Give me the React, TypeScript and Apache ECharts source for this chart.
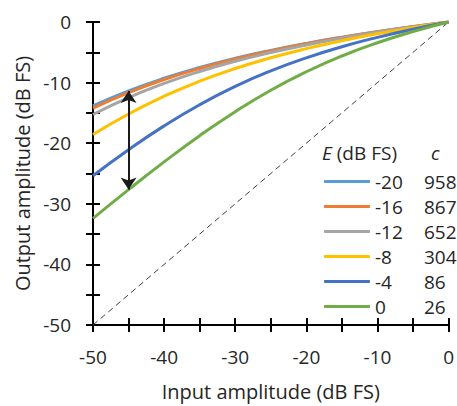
import React, { useEffect, useRef } from "react";
import * as echarts from "echarts";

const xInput = [-50, -45, -40, -35, -30, -25, -20, -15, -10, -5, 0];
const seriesNames = ["-20", "-16", "-12", "-8", "-4", "0"];
const cValues = ["958", "867", "652", "304", "86", "26"];
const colors = ["#5B9BD5", "#ED7D31", "#A5A5A5", "#FFC000", "#4472C4", "#70AD47"];

const yE20 = [-13.85, -11.37, -9.28, -7.51, -5.99, -4.68, -3.53, -2.51, -1.59, -0.76, 0];
const yE16 = [-14.2, -11.64, -9.49, -7.67, -6.11, -4.77, -3.59, -2.55, -1.62, -0.77, 0];
const yE12 = [-15.26, -12.48, -10.14, -8.16, -6.48, -5.04, -3.78, -2.68, -1.69, -0.81, 0];
const yE8 = [-18.58, -15.18, -12.25, -9.77, -7.68, -5.91, -4.4, -3.09, -1.94, -0.92, 0];
const yE4 = [-25.37, -21.08, -17.14, -13.65, -10.63, -8.07, -5.91, -4.08, -2.53, -1.18, 0];
const yE0 = [-32.41, -27.66, -23.08, -18.76, -14.8, -11.26, -8.21, -5.61, -3.43, -1.58, 0];
const seriesValues = [yE20, yE16, yE12, yE8, yE4, yE0];

const diagonal = [[-50, -50], [0, 0]];
const arrowX = -45;
const arrowTop = -11.37;
const arrowBottom = -27.66;

const FONT = "Open Sans";
const FS = 19;
const NFS = 20;

export default function App() {
  const ref = useRef<HTMLDivElement>(null);
  useEffect(() => {
    if (!ref.current) return;
    const chart = echarts.init(ref.current, null, { renderer: "svg" });
    const cMap: Record<string, string> = {};
    seriesNames.forEach((n, i) => (cMap[n] = cValues[i]));
    const fmt = (v: number) => (v % 10 === 0 ? String(v) : "");
    const textColor = "#262626";
    const axisBase = (inside: boolean, showLine: boolean, showLabel: boolean) => ({
      type: "value",
      min: -50,
      max: 0,
      interval: 5,
      splitLine: { show: false },
      axisLine: { show: showLine, onZero: false, lineStyle: { color: "#000", width: 2 } },
      axisTick: { show: true, inside, length: 7, lineStyle: { color: "#000", width: 2 } },
      axisLabel: {
        show: showLabel,
        formatter: fmt,
        margin: 22,
        color: textColor,
        fontFamily: FONT,
        fontSize: FS,
      },
    });
    chart.setOption({
      animation: false,
      backgroundColor: "#fff",
      grid: { left: 93, right: 8, top: 22, bottom: 77 },
      xAxis: [
        {
          ...axisBase(false, true, true),
          position: "bottom",
          name: "Input amplitude (dB FS)",
          nameLocation: "middle",
          nameGap: 56,
          nameTextStyle: { color: textColor, fontFamily: FONT, fontSize: NFS },
        },
        { ...axisBase(true, false, false), position: "bottom" },
      ],
      yAxis: [
        {
          ...axisBase(false, true, true),
          position: "left",
          name: "Output amplitude (dB FS)",
          nameLocation: "middle",
          nameGap: 61,
          nameTextStyle: { color: textColor, fontFamily: FONT, fontSize: NFS },
        },
        { ...axisBase(true, false, false), position: "left" },
      ],
      legend: {
        data: seriesNames,
        orient: "vertical",
        left: 319,
        top: 167,
        itemWidth: 46,
        itemHeight: 3,
        itemGap: 6,
        icon: "roundRect",
        formatter: (name: string) => `{n|${name}}{c|${cMap[name]}}`,
        textStyle: {
          color: textColor,
          fontFamily: FONT,
          fontSize: FS,
          rich: {
            n: { width: 49, fontFamily: FONT, fontSize: FS, lineHeight: 21, color: textColor },
            c: { fontFamily: FONT, fontSize: FS, lineHeight: 21, color: textColor },
          },
        },
      },
      graphic: [
        {
          type: "text",
          left: 322,
          top: 143,
          style: {
            text: "{i|E} (dB FS)",
            fill: textColor,
            font: `${FS}px ${FONT}`,
            rich: {
              i: { fontStyle: "italic", fontFamily: FONT, fontSize: FS, fill: textColor },
            },
          },
        },
        {
          type: "text",
          left: 431,
          top: 143,
          style: {
            text: "c",
            fill: textColor,
            font: `italic ${FS}px ${FONT}`,
          },
        },
      ],
      series: [
        ...seriesNames.map((n, i) => ({
          name: n,
          type: "line",
          smooth: true,
          showSymbol: false,
          data: xInput.map((x, j) => [x, seriesValues[i][j]]),
          lineStyle: { color: colors[i], width: 3 },
          itemStyle: { color: colors[i] },
        })),
        {
          name: "diagonal",
          type: "line",
          showSymbol: false,
          data: diagonal,
          lineStyle: { color: "#404040", width: 1, type: [6, 4] },
          silent: true,
          z: 1,
          markLine: {
            silent: true,
            symbol: ["arrow", "arrow"],
            symbolSize: [12, 12],
            label: { show: false },
            lineStyle: { color: "#1a1a1a", width: 2, type: "solid" },
            data: [[{ coord: [arrowX, arrowTop] }, { coord: [arrowX, arrowBottom] }]],
          },
        },
      ],
    });
    return () => chart.dispose();
  }, []);
  return (
    <div
      ref={ref}
      style={{ position: "fixed", left: 0, top: 0, width: 457, height: 406 }}
    />
  );
}
